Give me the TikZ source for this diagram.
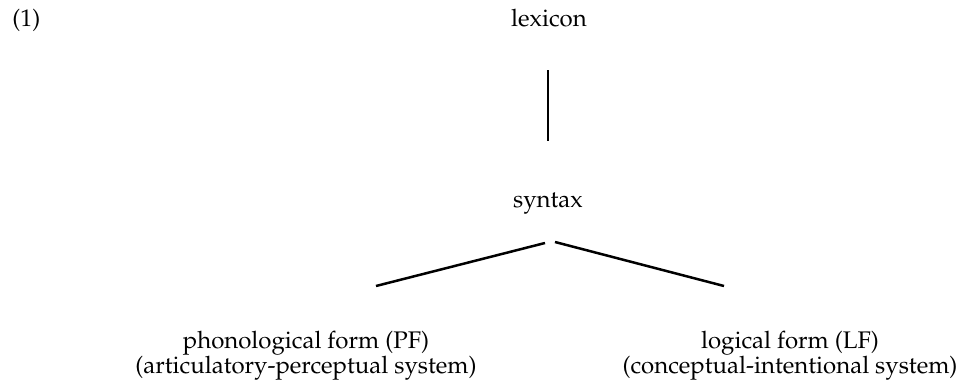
\documentclass[tikz,border=0pt]{standalone}
\usepackage[T1]{fontenc}
\usepackage{mathpazo}
\begin{document}
\begin{tikzpicture}[x=0.5pt,y=-0.5pt,
  lbl/.style={inner sep=0pt, font=\fontsize{12}{12.5}\selectfont, anchor=base, align=center},
  branch/.style={line width=1.25pt}]
\useasboundingbox (0,0) rectangle (959,386);
\node[lbl, anchor=base west] (ex) at (12,26) {(1)};
\node[lbl] (lex) at (549,26) {lexicon};
\node[lbl] (syn) at (548,207) {syntax};
\node[lbl] (pf) at (306,373) {phonological form (PF)\\(articulatory-perceptual system)};
\node[lbl] (lf) at (790,373) {logical form (LF)\\(conceptual-intentional system)};
% branch end points
\coordinate (vtop) at (548,70);
\coordinate (vbot) at (548,141);
\coordinate (ltop) at (545,243);
\coordinate (lbot) at (376,286);
\coordinate (rtop) at (555,242);
\coordinate (rbot) at (724,286);
\draw[branch] (vtop) -- (vbot);
\draw[branch] (ltop) -- (lbot);
\draw[branch] (rtop) -- (rbot);
\end{tikzpicture}
\end{document}
